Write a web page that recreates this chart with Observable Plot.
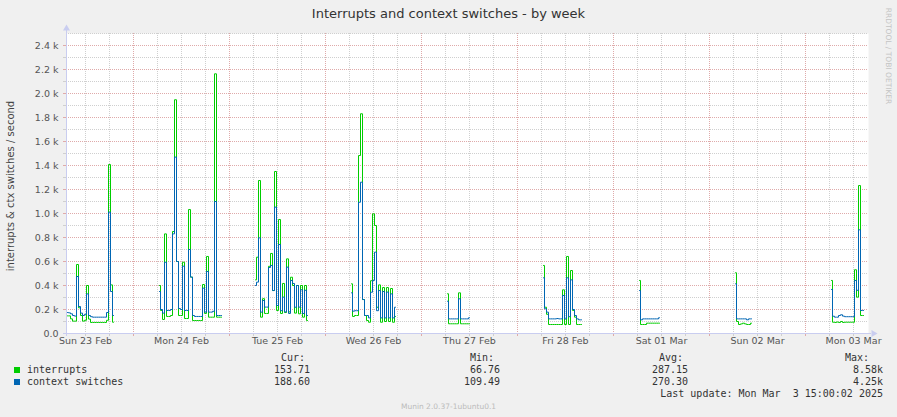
<!DOCTYPE html>
<html><head><meta charset="utf-8">
<script src="https://cdn.jsdelivr.net/npm/d3@7"></script>
<script src="https://cdn.jsdelivr.net/npm/@observablehq/plot@0.6"></script>
<style>
html,body{margin:0;padding:0;background:#f0f0f0;}
#wrap{position:relative;width:897px;height:417px;overflow:hidden;background:#f0f0f0;}
#chart{position:absolute;left:0;top:0;}
.t{position:absolute;white-space:pre;line-height:1;}
.sq{position:absolute;width:6px;height:6px;}
</style></head>
<body><div id="wrap"><div id="chart"></div></div>
<script>
// ---------- data ----------
const title = "Interrupts and context switches - by week";
const yLabel = "interrupts & ctx switches / second";
const sideText = "RRDTOOL / TOBI OETIKER";
const footer = "Munin 2.0.37-1ubuntu0.1";
const seriesNames = ["interrupts", "context switches"];
const seriesColors = ["#00CC00", "#0066B3"];
const legendHeaders = ["Cur:", "Min:", "Avg:", "Max:"];
const curValues = ["153.71", "188.60"];
const minValues = ["66.76", "109.49"];
const avgValues = ["287.15", "270.30"];
const maxValues = ["8.58k", "4.25k"];
const lastUpdate = "Last update: Mon Mar  3 15:00:02 2025";

const xStart = new Date(Date.UTC(2025, 1, 23, 7, 15));
const xEnd = new Date(Date.UTC(2025, 2, 3, 15, 45));
const slotOrigin = Date.UTC(2025, 1, 23, 7, 30);
const slotMinutes = 30;
const segmentStarts = [0, 46, 94, 142, 190, 238, 286, 334, 382];

const interrupts = [
  [147,147,122,103,103,575,214,150,103,110,400,120,92,92,92,92,92,92,92,92,110,1408,405,94],
  [400,192,117,830,142,142,150,850,1948,600,150,150,594,125,125,1033,470,108,108,108,108,108,408,167,642,136,136,136,2164,136,136,136],
  [447,636,1275,136,290,167,167,560,667,358,1350,192,950,167,417,175,622,180,469,400,170,400,164,400,136,400,108],
  [414,142,150,150,1483,1831,283,150,108,94,440,997,900,219,405,94,383,100,383,100,375,94,142],
  [331,81,81,81,81,81,339,81,81,81,81,81],
  [567,219,160,75,75,75,75,75,75,75,364,75,642,75,525,192,136,75,75,75],
  [442,75,75,75,86,86,86,86,86,86,86],
  [506,100,75,80,86,80,75,75,86],
  [442,94,92,96,92,100,92,94,94,94,94,94,531,303,1233,150,150]
];
const contextSwitches = [
  [175,172,164,150,145,475,225,170,150,160,330,150,140,136,136,136,136,136,136,136,175,1011,350,150],
  [350,200,170,594,192,192,200,830,1470,600,208,200,561,192,192,700,470,150,142,142,142,142,378,178,517,178,178,185,1100,150,150,150],
  [400,428,797,178,275,220,220,550,567,358,1053,233,742,190,303,180,553,167,442,417,219,400,220,364,167,360,150],
  [339,186,190,190,1094,1261,283,150,150,130,344,442,678,190,358,130,350,130,345,130,330,130,219],
  [269,122,122,122,122,122,289,122,122,122,122,131],
  [464,206,178,122,122,122,122,125,122,122,317,122,464,140,447,200,150,122,114,114],
  [358,114,122,122,122,122,122,122,122,122,131],
  [414,122,122,122,122,122,114,122,122],
  [367,144,136,136,150,156,145,140,140,140,140,140,442,360,864,192,192]
];

const yMajorTicks = [0, 200, 400, 600, 800, 1000, 1200, 1400, 1600, 1800, 2000, 2200, 2400];
const yMinorTicks = [100, 300, 500, 700, 900, 1100, 1300, 1500, 1700, 1900, 2100, 2300, 2500];

// ---------- build rows ----------
function rowsFor(segs) {
  const rows = [];
  segs.forEach((vals, i) => {
    vals.forEach((v, j) => {
      rows.push({t: new Date(slotOrigin + (segmentStarts[i] + j) * slotMinutes * 60000), v});
    });
    // gap marker between segments
    rows.push({t: new Date(slotOrigin + (segmentStarts[i] + vals.length) * slotMinutes * 60000), v: NaN});
  });
  return rows;
}
const intRows = rowsFor(interrupts);
const ctxRows = rowsFor(contextSwitches);

const dayLines = d3.utcDay.range(xStart, xEnd);
const sixHourLines = d3.utcHour.every(6).range(xStart, xEnd).filter(d => d.getUTCHours() !== 0);
const dayLabels = d3.utcDay.range(d3.utcDay.floor(xStart), xEnd).map(d => d3.utcHour.offset(d, 12)).filter(d => d >= xStart && d <= xEnd);

const red = "#dfaaaa";
const gray = "#cfcfcf";
const axisColor = "#c9cdf0";
const fmtY = v => v === 0 ? "0.0" : (v / 1000).toFixed(1) + " k";

const chart = Plot.plot({
  width: 897, height: 356,
  marginLeft: 66, marginRight: 29, marginTop: 33, marginBottom: 23,
  style: {background: "transparent", fontFamily: "'DejaVu Sans', sans-serif", fontSize: "9.5px", color: "#555", overflow: "visible"},
  x: {type: "utc", domain: [xStart, xEnd], axis: null, label: null},
  y: {domain: [0, 2500], axis: null, label: null},
  marks: [
    Plot.frame({fill: "white", stroke: "none"}),
    Plot.ruleY(yMinorTicks, {stroke: gray, strokeDasharray: "1,1"}),
    Plot.ruleY(yMajorTicks.filter(d => d > 0), {stroke: red, strokeDasharray: "1,1"}),
    Plot.ruleX(sixHourLines, {stroke: gray, strokeDasharray: "1,1"}),
    Plot.ruleX(dayLines, {stroke: red, strokeDasharray: "1,1"}),
    Plot.axisY(yMinorTicks.filter(d => d < 2500), {tickSize: 3, stroke: gray, fill: "none", label: null}),
    Plot.axisY(yMajorTicks, {tickSize: 3, tickPadding: 5, stroke: red, tickFormat: fmtY, fill: "#555", label: null}),
    Plot.axisX(sixHourLines, {tickSize: 3, stroke: gray, fill: "none", label: null}),
    Plot.axisX(dayLines, {tickSize: 3, stroke: red, fill: "none", label: null}),
    Plot.axisX(dayLabels, {tickSize: 0, tickPadding: 4, tickFormat: d3.utcFormat("%a %d %b"), fill: "#555", label: null}),
    Plot.line(intRows, {x: "t", y: "v", stroke: seriesColors[0], strokeWidth: 1, curve: "step"}),
    Plot.line(ctxRows, {x: "t", y: "v", stroke: seriesColors[1], strokeWidth: 1, curve: "step"}),
    Plot.ruleX([xStart], {stroke: axisColor, insetTop: -3, insetBottom: -3}),
    Plot.ruleY([0], {stroke: axisColor, insetLeft: -3, insetRight: -3}),
    Plot.dot([xStart], {x: d => d, y: () => 2500, dy: -5, symbol: "triangle", r: 2.6, fill: axisColor, stroke: "none"}),
    Plot.dot([xEnd], {x: d => d, y: () => 0, dx: 5, symbol: "triangle", r: 2.6, rotate: 90, fill: axisColor, stroke: "none"})
  ]
});
document.getElementById("chart").appendChild(chart);

// ---------- texts ----------
const wrap = document.getElementById("wrap");
const SANS = "'DejaVu Sans', sans-serif";
const MONO = "'DejaVu Sans Mono', monospace";
function addText(str, x, y, {anchor = "start", size = 10, family = MONO, color = "#333", rotate = 0} = {}) {
  const d = document.createElement("div");
  d.className = "t";
  d.textContent = str;
  d.style.left = x + "px";
  d.style.top = y + "px";
  d.style.fontSize = size + "px";
  d.style.fontFamily = family;
  d.style.color = color;
  const tx = anchor === "end" ? "-100%" : anchor === "middle" ? "-50%" : "0";
  d.style.transform = rotate ? `translate(-50%,-50%) rotate(${rotate}deg)` : `translate(${tx},-50%)`;
  wrap.appendChild(d);
  return d;
}
addText(title, 448.5, 13, {anchor: "middle", size: 13, family: SANS, color: "#333"});
addText(yLabel, 10.5, 186, {size: 10, family: SANS, color: "#444", rotate: -90});
addText(sideText, 888, 56, {size: 7.5, family: SANS, color: "#c4c4c4", rotate: 90});
addText(footer, 448.5, 406.5, {anchor: "middle", size: 7.5, family: SANS, color: "#bbb"});

const headerRight = [305, 494, 683, 869];
const valueRight = [310, 500, 688, 883];
legendHeaders.forEach((h, i) => addText(h, headerRight[i], 357.5, {anchor: "end"}));
const rowY = [369.8, 382];
const cols = [curValues, minValues, avgValues, maxValues];
seriesNames.forEach((name, r) => {
  const sq = document.createElement("div");
  sq.className = "sq";
  sq.style.left = "14px";
  sq.style.top = (rowY[r] - 3) + "px";
  sq.style.background = seriesColors[r];
  wrap.appendChild(sq);
  addText(name, 27, rowY[r]);
  cols.forEach((c, i) => addText(c[r], valueRight[i], rowY[r], {anchor: "end"}));
});
addText(lastUpdate, 883, 393.5, {anchor: "end"});
</script>
</body></html>
